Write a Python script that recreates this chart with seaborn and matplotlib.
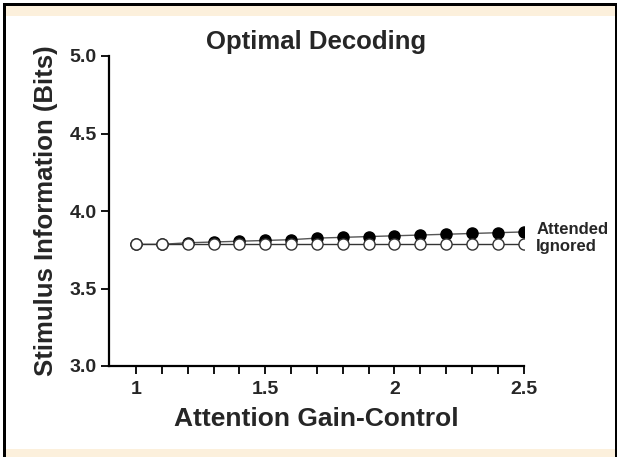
import numpy as np
import matplotlib
matplotlib.use('Agg')
import matplotlib.pyplot as plt
from matplotlib.patches import Rectangle
import seaborn as sns
import pandas as pd

# gain values and decoded information
gain = [1.0, 1.1, 1.2, 1.3, 1.4, 1.5, 1.6, 1.7, 1.8, 1.9, 2.0, 2.1, 2.2, 2.3, 2.4, 2.5]
attended = [3.785, 3.785, 3.795, 3.80, 3.805, 3.81, 3.815, 3.825, 3.83, 3.835,
            3.84, 3.845, 3.85, 3.855, 3.86, 3.865]
ignored = [3.785] * 16
series_names = ['Attended', 'Ignored']
x_ticks = [1, 1.5, 2, 2.5]
x_ticklabels = ['1', '1.5', '2', '2.5']
y_ticks = [3.0, 3.5, 4.0, 4.5, 5.0]

sns.set_style('ticks')
plt.rcParams['font.family'] = ['Liberation Sans', 'DejaVu Sans']
plt.rcParams['font.weight'] = 'bold'

W, H = 619, 457
fig = plt.figure(figsize=(W / 100, H / 100), dpi=100)
fig.patch.set_facecolor('white')

# framed panel look: beige bands + black border
beige = '#fcf0dc'
fig.patches.append(Rectangle((5 / W, 1 - 16 / H), 610 / W, 11 / H, transform=fig.transFigure,
                             facecolor=beige, edgecolor='none', zorder=0))
fig.patches.append(Rectangle((5 / W, 0), 610 / W, 8 / H, transform=fig.transFigure,
                             facecolor=beige, edgecolor='none', zorder=0))
for (x0, y0, w, h) in [(3, 0, 2.5, 454), (3, 451.5, 613, 2.5), (614.5, 0, 2.5, 454)]:
    fig.patches.append(Rectangle((x0 / W, y0 / H), w / W, h / H, transform=fig.transFigure,
                                 facecolor='black', edgecolor='none', zorder=1))

ax = fig.add_axes([109 / W, 91 / H, 414.6 / W, 310 / H])
ax.set_facecolor('none')

df = pd.DataFrame({'gain': gain * 2,
                   'info': attended + ignored,
                   'cond': ['Attended'] * 16 + ['Ignored'] * 16})

sns.lineplot(data=df[df.cond == 'Attended'], x='gain', y='info', ax=ax,
             color='#555555', lw=1, marker='o', markersize=8,
             markerfacecolor='black', markeredgecolor='black', markeredgewidth=1, zorder=3)
sns.lineplot(data=df[df.cond == 'Ignored'], x='gain', y='info', ax=ax,
             color='#333333', lw=1, marker='o', markersize=8,
             markerfacecolor='white', markeredgecolor='#333333', markeredgewidth=1, zorder=4)

# series labels at line ends
ax.annotate(series_names[0], (gain[-1], attended[-1]), xytext=(9, 1.5), textcoords='offset points',
            fontsize=12, fontweight='bold', va='center', ha='left', annotation_clip=False)
ax.annotate(series_names[1], (gain[-1], ignored[-1]), xytext=(9, -1.5), textcoords='offset points',
            fontsize=12, fontweight='bold', va='center', ha='left', annotation_clip=False)

ax.set_xlim(0.895, 2.5)
ax.set_ylim(3.0, 5.0)
ax.set_xticks(x_ticks)
ax.set_xticklabels(x_ticklabels)
ax.set_xticks(np.arange(1.0, 2.55, 0.1), minor=True)
ax.set_yticks(y_ticks)
ax.set_yticklabels([f'{v:.1f}' for v in y_ticks])
ax.tick_params(axis='both', which='both', direction='out', length=6, width=1.3,
               labelsize=14, color='black')
ax.tick_params(axis='x', pad=4.5)
ax.tick_params(axis='y', pad=3)
for lab in ax.get_xticklabels() + ax.get_yticklabels():
    lab.set_fontweight('bold')

for s in ['top', 'right']:
    ax.spines[s].set_visible(False)
for s in ['left', 'bottom']:
    ax.spines[s].set_linewidth(1.6)
    ax.spines[s].set_color('black')

ax.set_xlabel('Attention Gain-Control', fontsize=19, fontweight='bold', labelpad=7)
ax.set_ylabel('Stimulus Information (Bits)', fontsize=18.5, fontweight='bold', labelpad=8)
ax.set_title('Optimal Decoding', fontsize=18.5, fontweight='bold', pad=5)
ax.legend_ = None

fig.savefig('out.png', dpi=100)
